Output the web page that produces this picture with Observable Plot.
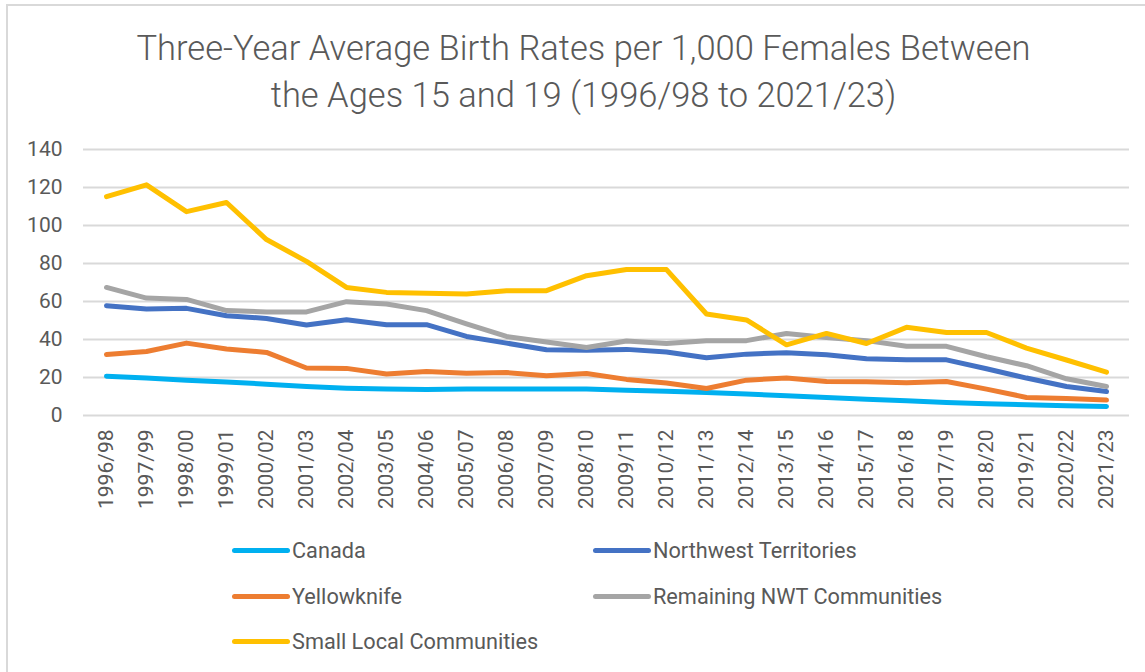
<!DOCTYPE html>
<html>
<head>
<meta charset="utf-8">
<script src="https://cdn.jsdelivr.net/npm/d3@7"></script>
<script src="https://cdn.jsdelivr.net/npm/@observablehq/plot@0.6"></script>
<style>
  html, body { margin: 0; padding: 0; background: #fff; }
  #wrap { position: relative; width: 1145px; height: 672px; overflow: hidden; font-family: Roboto, "Noto Sans", sans-serif; color: #595959; }
  #border { position: absolute; left: 6px; top: 4px; right: -10px; bottom: -10px; border-top: 2px solid #d9d9d9; border-left: 2px solid #d9d9d9; }
  #title { position: absolute; left: 0; top: 25px; width: 1167px; text-align: center; font-size: 34.5px; line-height: 47px; font-weight: 300; color: #595959; }
  #chart { position: absolute; left: 0; top: 130px; }
  #legend { position: absolute; left: 0; top: 0; width: 1145px; height: 672px; pointer-events: none; }
  .item { position: absolute; display: flex; align-items: center; font-size: 21.7px; color: #595959; height: 30px; }
  .sw { width: 58px; height: 5px; border-radius: 3px; margin-right: 2px; }
</style>
</head>
<body>
<div id="wrap">
  <div id="border"></div>
  <div id="title">Three-Year Average Birth Rates per 1,000 Females Between<br>the Ages 15 and 19 (1996/98 to 2021/23)</div>
  <div id="chart"></div>
  <div id="legend"></div>
</div>
<script>
const periods = ["1996/98","1997/99","1998/00","1999/01","2000/02","2001/03","2002/04","2003/05","2004/06","2005/07","2006/08","2007/09","2008/10","2009/11","2010/12","2011/13","2012/14","2013/15","2014/16","2015/17","2016/18","2017/19","2018/20","2019/21","2020/22","2021/23"];

const canada = [20.7,19.7,18.6,17.6,16.5,15.3,14.4,13.9,13.7,13.9,13.9,14.0,14.0,13.3,12.8,12.1,11.3,10.4,9.5,8.6,7.8,6.9,6.2,5.6,5.1,4.7];
const northwestTerritories = [57.8,56.0,56.4,52.5,51.1,47.6,50.4,47.8,47.8,41.6,38.1,34.6,34.3,34.8,33.4,30.4,32.3,33.0,32.0,29.9,29.3,29.3,24.6,19.7,15.3,12.6];
const yellowknife = [32.1,33.7,38.1,35.0,33.2,25.0,24.8,21.8,23.2,22.3,22.6,20.9,22.1,19.0,17.1,14.2,18.6,19.7,17.9,17.7,17.2,17.9,13.9,9.5,9.0,8.1];
const remainingNWT = [67.4,61.8,61.1,55.2,54.5,54.5,59.9,58.7,55.2,48.2,41.6,38.7,35.8,39.2,37.9,39.4,39.4,43.2,41.1,39.4,36.4,36.4,30.9,26.2,19.3,15.3];
const smallLocal = [115.2,121.4,107.3,112.1,92.6,81.1,67.4,64.8,64.3,64.0,65.7,65.7,73.6,76.8,76.8,53.4,50.3,37.2,43.2,37.9,46.4,43.7,43.7,35.5,29.2,22.8];

const seriesNames = ["Canada","Northwest Territories","Yellowknife","Remaining NWT Communities","Small Local Communities"];
const seriesColors = ["#00B0F0","#4472C4","#ED7D31","#A5A5A5","#FFC000"];
const seriesValues = [canada, northwestTerritories, yellowknife, remainingNWT, smallLocal];
const yTicks = [0,20,40,60,80,100,120,140];

const rows = [];
seriesNames.forEach((name, si) => {
  periods.forEach((p, i) => rows.push({series: name, period: p, value: seriesValues[si][i]}));
});

const plot = Plot.plot({
  width: 1145,
  height: 400,
  marginTop: 19,
  marginBottom: 115,
  marginLeft: 83,
  marginRight: 16,
  style: {fontFamily: "Roboto, 'Noto Sans', sans-serif", fontSize: "21px", color: "#595959", background: "transparent"},
  x: {type: "point", domain: periods, padding: 0.5, label: null},
  y: {domain: [0, 140], ticks: yTicks, label: null},
  color: {domain: seriesNames, range: seriesColors},
  marks: [
    Plot.gridY(yTicks, {stroke: "#d9d9d9", strokeOpacity: 1, strokeWidth: 2}),
    Plot.axisY(yTicks, {tickSize: 0, tickPadding: 21, fontSize: 21, fill: "#595959"}),
    Plot.axisX({tickSize: 0, tickPadding: 14, tickRotate: -90, fontSize: 21, fill: "#595959"}),
    Plot.line(rows, {x: "period", y: "value", z: "series", stroke: "series", strokeWidth: 5, strokeLinecap: "round", strokeLinejoin: "round", curve: "linear"})
  ]
});
document.getElementById("chart").appendChild(plot);

const legendPos = [[232, 550],[593, 550],[232, 596],[593, 596],[232, 641]];
const legend = document.getElementById("legend");
seriesNames.forEach((name, i) => {
  const el = document.createElement("div");
  el.className = "item";
  el.style.left = legendPos[i][0] + "px";
  el.style.top = (legendPos[i][1] - 15) + "px";
  el.innerHTML = `<span class="sw" style="background:${seriesColors[i]}"></span><span>${name}</span>`;
  legend.appendChild(el);
});
</script>
</body>
</html>
